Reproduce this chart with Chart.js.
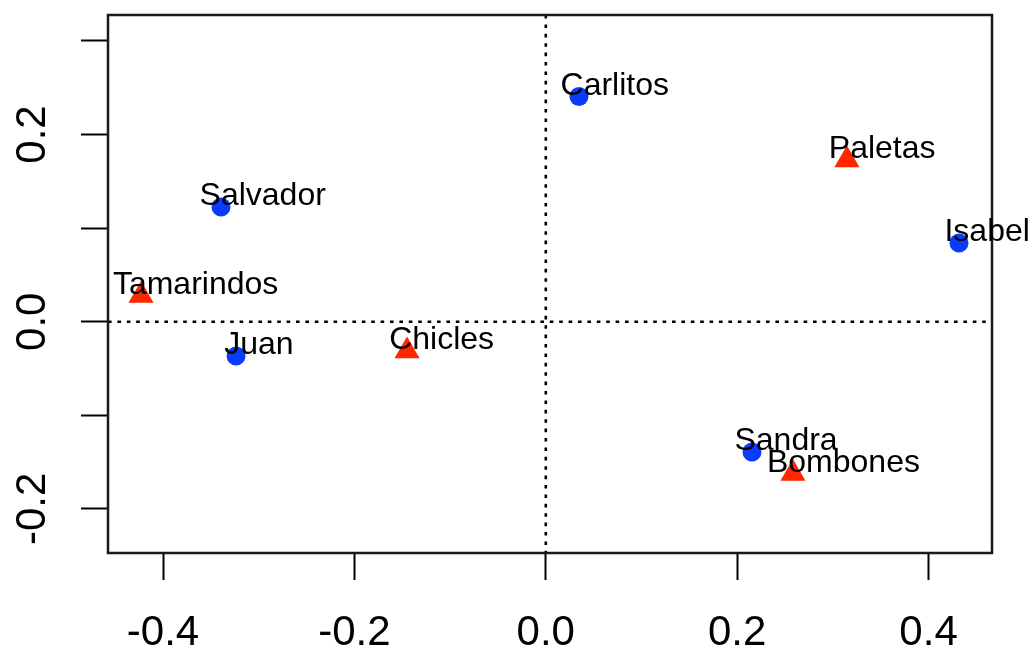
<!DOCTYPE html>
<html>
<head>
<meta charset="utf-8">
<script src="https://cdn.jsdelivr.net/npm/chart.js@4/dist/chart.umd.min.js"></script>
<style>
  html, body { margin: 0; padding: 0; background: #fff; }
  canvas { display: block; }
</style>
</head>
<body>
<canvas id="plot" width="1035" height="650"></canvas>
<script>
  // filas (puntos azules) y columnas (triángulos rojos)
  const rowNames = ["Carlitos", "Salvador", "Juan", "Isabel", "Sandra"];
  const rowX = [0.0347, -0.3394, -0.3237, 0.4318, 0.2155];
  const rowY = [0.2406, 0.1225, -0.0366, 0.0841, -0.1392];

  const colNames = ["Tamarindos", "Chicles", "Paletas", "Bombones"];
  const colX = [-0.423, -0.145, 0.3147, 0.2583];
  const colY = [0.028, -0.0313, 0.1728, -0.1622];

  const xTicks = [-0.4, -0.2, 0, 0.2, 0.4];
  const xTickLabels = ["-0.4", "-0.2", "0.0", "0.2", "0.4"];
  const yTicks = [-0.2, -0.1, 0, 0.1, 0.2, 0.3];
  const yTickLabels = ["-0.2", "", "0.0", "", "0.2", ""];

  const xRange = [-0.4575, 0.4663];
  const yRange = [-0.2471, 0.3277];

  const FONT = "'Liberation Sans', Arial, Helvetica, sans-serif";
  const blue = "#0a3bff";
  const red = "#ff2600";

  const toPts = (xs, ys) => xs.map((x, i) => ({ x: x, y: ys[i] }));

  // caja, líneas punteadas en 0, etiquetas del eje y y nombres
  const rPlot = {
    id: "rPlot",
    beforeDatasetsDraw(chart) {
      const ctx = chart.ctx;
      const a = chart.chartArea;
      const x0 = chart.scales.x.getPixelForValue(0);
      const y0 = chart.scales.y.getPixelForValue(0);
      ctx.save();
      ctx.strokeStyle = "#000";
      ctx.lineWidth = 2.6;
      ctx.setLineDash([3.6, 5.8]);
      ctx.beginPath();
      ctx.moveTo(a.left, y0);
      ctx.lineTo(a.right, y0);
      ctx.moveTo(x0, a.top);
      ctx.lineTo(x0, a.bottom);
      ctx.stroke();
      ctx.restore();
    },
    afterDatasetsDraw(chart) {
      const ctx = chart.ctx;
      const a = chart.chartArea;
      const sx = chart.scales.x;
      const sy = chart.scales.y;
      ctx.save();
      ctx.strokeStyle = "#1a1a1a";
      ctx.lineWidth = 2.5;
      ctx.strokeRect(a.left, a.top, a.right - a.left, a.bottom - a.top);

      // nombres
      ctx.fillStyle = "#000";
      ctx.font = "32px " + FONT;
      ctx.textAlign = "left";
      ctx.textBaseline = "alphabetic";
      const label = (names, xs, ys) => {
        names.forEach((n, i) => {
          const px = sx.getPixelForValue(xs[i]);
          const py = sy.getPixelForValue(ys[i]);
          const w = ctx.measureText(n).width;
          ctx.fillText(n, px - 0.17 * w, py - 2);
        });
      };
      label(rowNames, rowX, rowY);
      label(colNames, colX, colY);

      // etiquetas del eje y, giradas
      ctx.font = "42px " + FONT;
      ctx.textAlign = "center";
      yTicks.forEach((v, i) => {
        if (!yTickLabels[i]) return;
        ctx.save();
        ctx.translate(45, sy.getPixelForValue(v));
        ctx.rotate(-Math.PI / 2);
        ctx.fillText(yTickLabels[i], 0, 0);
        ctx.restore();
      });
      ctx.restore();
    },
  };

  new Chart(document.getElementById("plot").getContext("2d"), {
    type: "scatter",
    data: {
      datasets: [
        {
          data: toPts(rowX, rowY),
          pointStyle: "circle",
          pointRadius: 9.5,
          pointBorderWidth: 0,
          backgroundColor: blue,
          borderColor: blue,
        },
        {
          data: toPts(colX, colY),
          pointStyle: "triangle",
          pointRadius: 14.5,
          pointBorderWidth: 0,
          backgroundColor: red,
          borderColor: red,
        },
      ],
    },
    options: {
      responsive: false,
      animation: false,
      layout: { padding: { left: 0, top: 15, right: 43, bottom: 0 } },
      plugins: { legend: { display: false }, tooltip: { enabled: false } },
      scales: {
        x: {
          type: "linear",
          min: xRange[0],
          max: xRange[1],
          afterBuildTicks: (s) => { s.ticks = xTicks.map((v) => ({ value: v })); },
          afterFit: (s) => { s.height = 97; },
          border: { display: false },
          grid: {
            drawOnChartArea: false,
            drawTicks: true,
            tickLength: 27,
            tickWidth: 2,
            tickColor: "#000",
          },
          ticks: {
            padding: 28,
            maxRotation: 0,
            color: "#000",
            font: { family: FONT, size: 42 },
            callback: (v, i) => xTickLabels[i],
          },
        },
        y: {
          type: "linear",
          min: yRange[0],
          max: yRange[1],
          afterBuildTicks: (s) => { s.ticks = yTicks.map((v) => ({ value: v })); },
          afterFit: (s) => { s.width = 108; },
          border: { display: false },
          grid: {
            drawOnChartArea: false,
            drawTicks: true,
            tickLength: 27,
            tickWidth: 2,
            tickColor: "#000",
          },
          ticks: { display: false },
        },
      },
    },
    plugins: [rPlot],
  });
</script>
</body>
</html>
